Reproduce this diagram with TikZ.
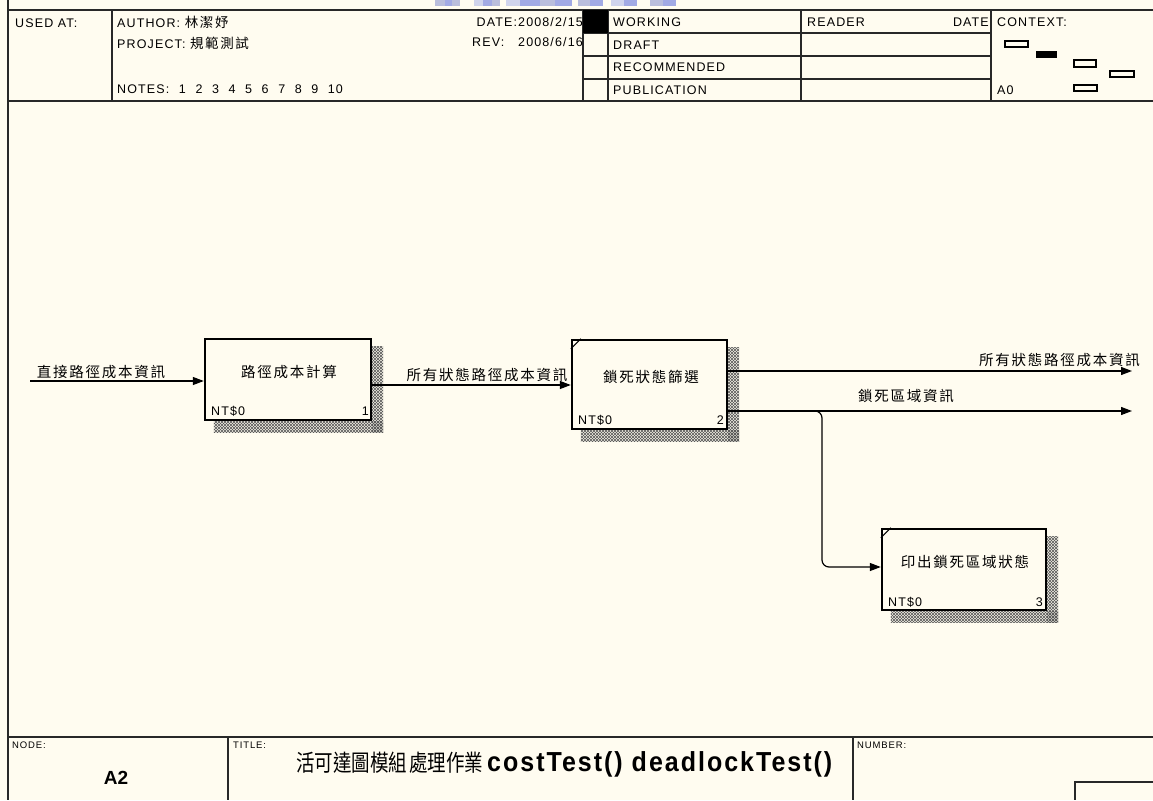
\documentclass[tikz,border=0pt]{standalone}
\usepackage{fontspec}
\usetikzlibrary{arrows.meta,patterns,backgrounds,calc}
\newfontfamily\hdr{Liberation Sans}[LetterSpace=9]
\newfontfamily\ttlfont{Liberation Sans}[LetterSpace=8]
\newfontfamily\plainsans{Liberation Sans}
\newfontfamily\cjk{Noto Sans CJK TC}[LetterSpace=12]
\newfontfamily\cjkt{Noto Sans CJK TC}
\definecolor{bgc}{RGB}{255,252,240}
\definecolor{wma}{RGB}{186,190,220}
\definecolor{wmb}{RGB}{162,170,228}
\definecolor{wmc}{RGB}{208,212,236}
\definecolor{linec}{RGB}{40,40,40}
\pgfdeclarepatternformonly{shadowhatch}{\pgfqpoint{-0.5pt}{-0.5pt}}{\pgfqpoint{3.5pt}{3.5pt}}{\pgfqpoint{3pt}{3pt}}{%
  \pgfsetlinewidth{0.5pt}%
  \pgfpathmoveto{\pgfqpoint{0pt}{0pt}}\pgfpathlineto{\pgfqpoint{3.1pt}{3.1pt}}%
  \pgfpathmoveto{\pgfqpoint{0pt}{3pt}}\pgfpathlineto{\pgfqpoint{3.1pt}{-0.1pt}}%
  \pgfusepath{stroke}}
\newcommand\hsz{\hdr\fontsize{12.5}{14}\selectfont}
\newcommand\hcjk{\cjk\fontsize{13.5}{15}\selectfont}
\tikzset{
  frame/.style={line width=1.4pt, draw=linec},
  txt/.style={inner sep=0pt, anchor=west, font=\hsz},
  smalltxt/.style={inner sep=0pt, anchor=west, font=\hdr\fontsize{9.5}{10}\selectfont},
  fbox/.style={draw=black, line width=2.4pt, inner sep=0pt},
  boxlbl/.style={inner sep=0pt, font=\cjk\fontsize{14.5}{16}\selectfont},
  flowlbl/.style={inner sep=0pt, font=\cjk\fontsize{14.5}{16}\selectfont},
  flow/.style={line width=1.2pt, draw=black, -{Triangle[length=11pt,width=8pt]}},
  shadowfill/.style={pattern=shadowhatch, pattern color=black!65},
  ctx/.style={draw=black, line width=1.1pt},
  titletxt/.style={inner sep=0pt, anchor=base west}
}
\begin{document}
\begin{tikzpicture}[x=1pt,y=-1pt]
\useasboundingbox (0,0) rectangle (1153,800);
\begin{scope}[on background layer]
\fill[bgc] (0,0) rectangle (1153,800);
\end{scope}
% watermark strip at top
\fill[wma] (435,0) rectangle (445,6); \fill[wmb] (445,0) rectangle (452,6); \fill[wma] (452,0) rectangle (460,6);
\fill[wmc] (474,0) rectangle (483,6); \fill[wmb] (483,0) rectangle (492,6); \fill[wma] (492,0) rectangle (500,6);
\fill[wmc] (506,0) rectangle (520,6); \fill[wmb] (520,0) rectangle (540,6); \fill[wma] (540,0) rectangle (555,6); \fill[wmb] (555,0) rectangle (572,6);
\fill[wma] (578,0) rectangle (590,6); \fill[wmb] (590,0) rectangle (603,6);
\fill[wmc] (611,0) rectangle (624,6); \fill[wmb] (624,0) rectangle (637,6);
\fill[wma] (650,0) rectangle (663,6); \fill[wmb] (663,0) rectangle (676,6);

% frame
\draw[frame] (8,0) -- (8,800);
\draw[frame] (8,10) -- (1153,10);
\draw[frame] (8,101) -- (1153,101);
\draw[frame] (112,10) -- (112,101);
\draw[frame] (583,10) -- (583,101);
\draw[frame] (608,10) -- (608,101);
\draw[frame] (801,10) -- (801,101);
\draw[frame] (991,10) -- (991,101);
\draw[frame] (583,33) -- (991,33);
\draw[frame] (583,56) -- (991,56);
\draw[frame] (583,79) -- (991,79);
\fill[black] (583,10) rectangle (608,33);

% header texts
\node[txt] (usedat) at (15,23) {USED AT:};
\node[txt] (author) at (117,22) {AUTHOR: {\hcjk 林潔妤}};
\node[txt] (project) at (117,43) {PROJECT: {\hcjk 規範測試}};
\node[txt] (notes) at (117,89.5) {\spaceskip=9.6pt\relax NOTES: 1 2 3 4 5 6 7 8 9 10};
\node[txt, anchor=east] (date) at (583,22.5) {DATE:2008/2/15};
\node[txt] (rev) at (472,42.5) {REV:};
\node[txt, anchor=east] (revd) at (583,42.5) {2008/6/16};
\node[txt] (working) at (613,22.5) {WORKING};
\node[txt] (draft) at (613,45) {DRAFT};
\node[txt] (recom) at (613,67.5) {RECOMMENDED};
\node[txt] (publ) at (613,90) {PUBLICATION};
\node[txt] (reader) at (807,22.5) {READER};
\node[txt, anchor=east] (rdate) at (989,22.5) {DATE};
\node[txt] (context) at (997,22.5) {CONTEXT:};
\node[txt] (a0) at (997,90) {A0};

% context glyph
\draw[ctx] (1005,41) rectangle (1028,47);
\fill[black] (1036,51) rectangle (1057,58);
\draw[ctx] (1074,60) rectangle (1096,67);
\draw[ctx] (1110,71) rectangle (1134,77);
\draw[ctx] (1074,85) rectangle (1097,91);

% boxes
\node[fbox, minimum width=166, minimum height=81] (b1) at (288,379.5) {};
\node[fbox, minimum width=155, minimum height=89] (b2) at (649.5,384.5) {};
\node[fbox, minimum width=164, minimum height=81] (b3) at (964,569.5) {};

\begin{scope}[on background layer]
\foreach \b in {b1,b2,b3}{
  \fill[shadowfill] ($(\b.north east)+(0,9)$) rectangle ($(\b.south east)+(11,11)$);
  \fill[shadowfill] ($(\b.south west)+(10,0)$) rectangle ($(\b.south east)+(11,11)$);
}
\end{scope}

% corner marks
\draw[line width=1.1pt] ($(b2.north west)+(0,10)$) -- ($(b2.north west)+(10,0)$);
\draw[line width=1.1pt] ($(b3.north west)+(0,10)$) -- ($(b3.north west)+(10,0)$);

% box labels
\node[boxlbl] (t1) at (289,372) {路徑成本計算};
\node[txt] (n1) at (211,411) {NT\$0};
\node[txt, anchor=east] (k1) at (369,411) {1};
\node[boxlbl] (t2) at (651,377) {鎖死狀態篩選};
\node[txt] (n2) at (578,420) {NT\$0};
\node[txt, anchor=east] (k2) at (724,420) {2};
\node[boxlbl] (t3) at (965,562) {印出鎖死區域狀態};
\node[txt] (n3) at (888,602) {NT\$0};
\node[txt, anchor=east] (k3) at (1043,602) {3};

% connectors
\coordinate (in1) at (30,381);
\draw[flow] (in1) -- (in1 -| b1.west);
\coordinate (m12) at (400,385);
\draw[flow] (b1.east |- m12) -- (m12 -| b2.west);
\coordinate (o1) at (1132,371);
\draw[flow] (o1 -| b2.east) -- (o1);
\coordinate (o2) at (1132,411);
\draw[flow] (o2 -| b2.east) -- (o2);
\coordinate (brk) at (822,411);
\coordinate (a3) at (850,567);
\draw[flow, rounded corners=7pt] ($(brk)+(-9,0)$) -- (brk) -- (brk |- a3) -- (a3 -| b3.west);

% connector labels
\node[flowlbl] (l0) at (101,372) {直接路徑成本資訊};
\node[flowlbl] (l12) at (487,375) {所有狀態路徑成本資訊};
\node[flowlbl, anchor=east] (l21) at (1140,360) {所有狀態路徑成本資訊};
\node[flowlbl] (l22) at (906,396) {鎖死區域資訊};

% bottom
\draw[frame] (8,737) -- (1153,737);
\draw[frame] (228,737) -- (228,800);
\draw[frame] (853,737) -- (853,800);
\draw[frame] (1153,782) -- (1075,782) -- (1075,800);
\node[smalltxt] (nodel) at (12,745) {NODE:};
\node[smalltxt] (titlel) at (233,745) {TITLE:};
\node[smalltxt] (numl) at (857,745) {NUMBER:};
\node[inner sep=0pt, font=\plainsans\bfseries\fontsize{19}{21}\selectfont] (a2) at (116,778) {A2};
\node[titletxt, font=\cjkt\fontsize{18.5}{20}\selectfont] (tc1) at (296,771) {\scalebox{1}[1.25]{活可達圖模組}};
\node[titletxt, font=\cjkt\fontsize{18.5}{20}\selectfont] (tc2) at (409,771) {\scalebox{1}[1.25]{處理作業}};
\node[titletxt, font=\ttlfont\bfseries\fontsize{25}{27}\selectfont] (tl) at (487,771) {\scalebox{1}[1.1]{costTest() deadlockTest()}};
\end{tikzpicture}
\end{document}
